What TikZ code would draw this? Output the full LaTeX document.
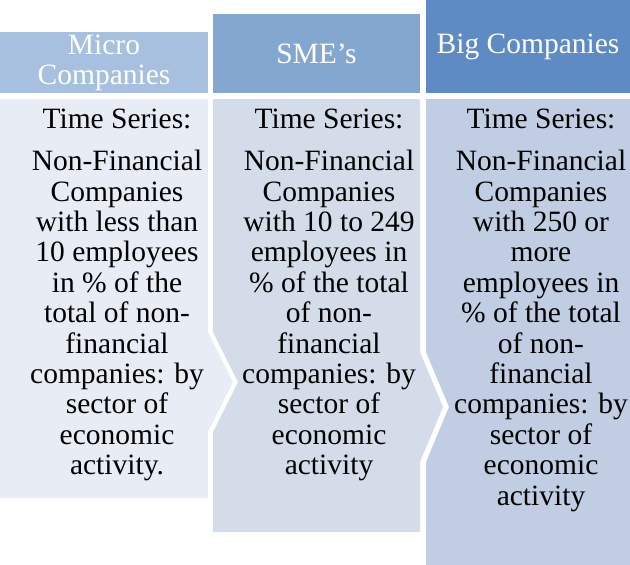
\documentclass[tikz,border=0pt]{standalone}
\usepackage{fontspec}
\setmainfont{Liberation Serif}
\usetikzlibrary{positioning}
\definecolor{headA}{HTML}{A8C0DF}
\definecolor{headB}{HTML}{84A7D0}
\definecolor{headC}{HTML}{5F8BC5}
\definecolor{bodyA}{HTML}{E8EDF5}
\definecolor{bodyB}{HTML}{D4DCE9}
\definecolor{bodyC}{HTML}{C1CDE2}
\tikzset{%
  header/.style   = {draw=none},%
  panel/.style    = {draw=none},%
  headtext/.style = {text=white, align=center, inner sep=0pt,%
                     font=\fontsize{29.5}{30}\selectfont},%
  bodytext/.style = {text=black, align=center, inner sep=0pt, anchor=north,%
                     font=\fontsize{29.5}{30.4}\selectfont}%
}
\begin{document}
\begin{tikzpicture}[x=1pt,y=-1pt]%
	\useasboundingbox (0,0) rectangle (630,565);
	% headers, stepping up from left to right
	\fill[header, headA] (0,32) rectangle (208,93);
	\fill[header, headB] (213,14) rectangle (420,93);
	\fill[header, headC] (426,0) rectangle (630,93);
	% chevron panels below
	\fill[panel, bodyA] (0,99) -- (208,99) -- (208,332) -- (233,382)
		-- (208,432) -- (208,498) -- (0,498) -- cycle;
	\fill[panel, bodyB] (213,99) -- (420,99) -- (420,352) -- (443,407)
		-- (420,462) -- (420,532) -- (213,532) -- (213,432) -- (238,382)
		-- (213,332) -- cycle;
	\fill[panel, bodyC] (426,99) -- (630,99) -- (630,565) -- (426,565)
		-- (426,462) -- (449,407) -- (426,352) -- cycle;
	% header labels
	\node[headtext] (micro) at (104,62.5) {Micro\\Companies};
	\node[headtext] (sme)   at (316.5,53.5) {SME’s};
	\node[headtext] (big)   at (528,46.5) {Big Companies};
	% panel texts
	\node[bodytext] (microtxt) at (117,108.5) {Time Series:\\[12pt]%
		Non-Financial\\Companies\\with less than\\10 employees\\in \% of the\\%
		total of non-\\financial\\companies: by\\sector of\\economic\\activity.};
	\node[bodytext] (smetxt) at (329,108.5) {Time Series:\\[12pt]%
		Non-Financial\\Companies\\with 10 to 249\\employees in\\\% of the total\\%
		of non-\\financial\\companies: by\\sector of\\economic\\activity};
	\node[bodytext] (bigtxt) at (541,108.5) {Time Series:\\[12pt]%
		Non-Financial\\Companies\\with 250 or\\more\\employees in\\\% of the total\\%
		of non-\\financial\\companies: by\\sector of\\economic\\activity};
\end{tikzpicture}
\end{document}
